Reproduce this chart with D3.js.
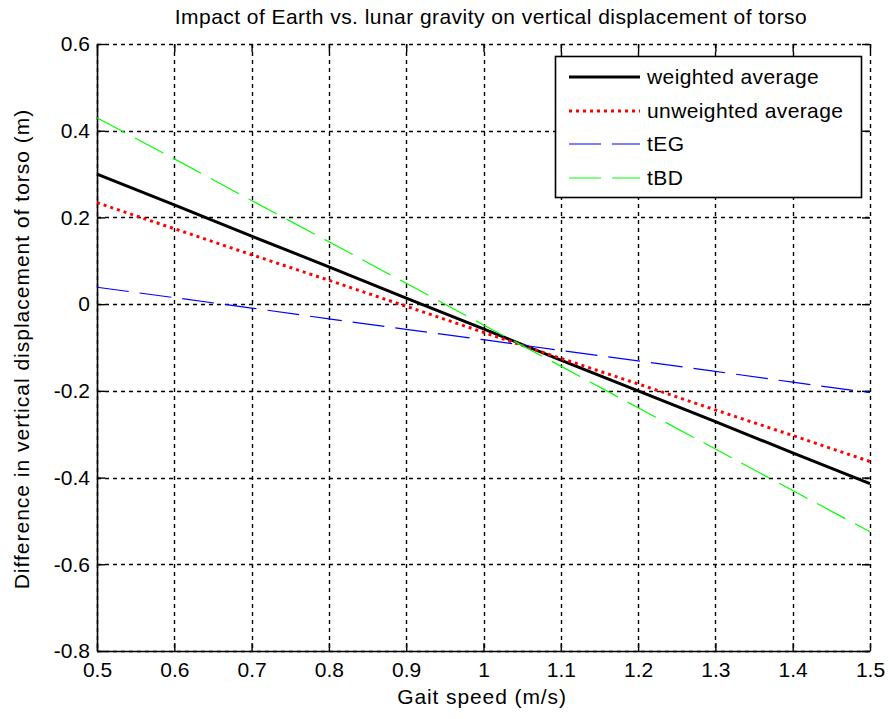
<!DOCTYPE html>
<html>
<head>
<meta charset="utf-8">
<script src="https://cdn.jsdelivr.net/npm/d3@7"></script>
<style>
  html, body { margin: 0; padding: 0; background: #fff; }
  svg { display: block; font-family: "Liberation Sans", Arial, sans-serif; }
</style>
</head>
<body>
<svg id="chart" width="889" height="719"></svg>
<script>
// Gait speed samples (m/s)
const speeds = [0.5, 0.6, 0.7, 0.8, 0.9, 1.0, 1.1, 1.2, 1.3, 1.4, 1.5];
// Earth minus lunar vertical torso displacement (m)
const weightedAvg   = [0.300, 0.229, 0.157, 0.086, 0.014, -0.057, -0.129, -0.200, -0.271, -0.343, -0.414];
const unweightedAvg = [0.234, 0.174, 0.114, 0.055, -0.005, -0.065, -0.125, -0.184, -0.244, -0.303, -0.363];
const tEG           = [0.039, 0.015, -0.009, -0.034, -0.058, -0.082, -0.107, -0.131, -0.155, -0.180, -0.204];
const tBD           = [0.430, 0.335, 0.239, 0.144, 0.048, -0.048, -0.143, -0.239, -0.334, -0.430, -0.525];

const xTicks = [0.5, 0.6, 0.7, 0.8, 0.9, 1, 1.1, 1.2, 1.3, 1.4, 1.5];
const yTicks = [0.6, 0.4, 0.2, 0, -0.2, -0.4, -0.6, -0.8];

const series = [
  { name: "weighted average",   values: weightedAvg,   color: "#000000", width: 3,   dash: null },
  { name: "unweighted average", values: unweightedAvg, color: "#ff0000", width: 3,   dash: "3,4" },
  { name: "tEG",                values: tEG,           color: "#0000ff", width: 1.2, dash: "32,11" },
  { name: "tBD",                values: tBD,           color: "#00ff00", width: 1.2, dash: "32,11" }
];

const svg = d3.select("#chart");
const L = 97, R = 870, T = 44, B = 651;
const FS = "21px";

const x = d3.scaleLinear().domain([0.5, 1.5]).range([L, R]);
const y = d3.scaleLinear().domain([-0.8, 0.6]).range([B, T]);

// dotted grid
const grid = svg.append("g").attr("stroke", "#000").attr("stroke-width", 1.4)
  .attr("stroke-dasharray", "4,4");
grid.selectAll("line.gx").data(xTicks).join("line")
  .attr("x1", d => Math.round(x(d)) + 0.5).attr("x2", d => Math.round(x(d)) + 0.5)
  .attr("y1", T).attr("y2", B);
grid.selectAll("line.gy").data(yTicks).join("line")
  .attr("y1", d => Math.round(y(d)) + 0.5).attr("y2", d => Math.round(y(d)) + 0.5)
  .attr("x1", L).attr("x2", R);

// axes with inward ticks
const fmt = d => String(d);
const tickLen = 8;
const axB = svg.append("g").attr("transform", `translate(0,${B})`)
  .call(d3.axisBottom(x).tickValues(xTicks).tickFormat(fmt).tickSizeInner(-tickLen).tickSizeOuter(0).tickPadding(11));
const axL = svg.append("g").attr("transform", `translate(${L},0)`)
  .call(d3.axisLeft(y).tickValues(yTicks).tickFormat(fmt).tickSizeInner(-tickLen).tickSizeOuter(0).tickPadding(7));
const axT = svg.append("g").attr("transform", `translate(0,${T})`)
  .call(d3.axisTop(x).tickValues(xTicks).tickFormat("").tickSizeInner(-tickLen).tickSizeOuter(0));
const axR = svg.append("g").attr("transform", `translate(${R},0)`)
  .call(d3.axisRight(y).tickValues(yTicks).tickFormat("").tickSizeInner(-tickLen).tickSizeOuter(0));

[axB, axL, axT, axR].forEach(a => {
  a.selectAll("line").attr("stroke", "#000").attr("stroke-width", 1.4);
  a.selectAll("text").attr("fill", "#000").style("font-size", FS)
    .style("font-family", "'Liberation Sans', Arial, sans-serif");
});
axT.select(".domain").remove();
axR.select(".domain").remove();
axB.select(".domain").attr("stroke", "#000").attr("stroke-width", 1.6);
axL.select(".domain").attr("stroke", "#000").attr("stroke-width", 1.6);

// data lines
const line = d3.line().x((d, i) => x(speeds[i])).y(d => y(d));
svg.append("g").selectAll("path").data(series).join("path")
  .attr("d", d => line(d.values))
  .attr("fill", "none")
  .attr("stroke", d => d.color)
  .attr("stroke-width", d => d.width)
  .attr("stroke-dasharray", d => d.dash);

// title and axis labels
svg.append("text").attr("x", 491).attr("y", 24).attr("text-anchor", "middle")
  .style("font-size", FS).style("letter-spacing", "0.45px")
  .text("Impact of Earth vs. lunar gravity on vertical displacement of torso");
svg.append("text").attr("x", 482).attr("y", 704).attr("text-anchor", "middle")
  .style("font-size", FS).style("letter-spacing", "0.9px").text("Gait speed (m/s)");
svg.append("text").attr("transform", "translate(29,349) rotate(-90)").attr("text-anchor", "middle")
  .style("font-size", FS).style("letter-spacing", "1px")
  .text("Difference in vertical displacement of torso (m)");

// legend
const lg = svg.append("g");
lg.append("rect").attr("x", 555.5).attr("y", 56.5).attr("width", 306).attr("height", 141)
  .attr("fill", "#fff").attr("stroke", "#000").attr("stroke-width", 1.6);
const rowsY = [77, 111, 144, 178];
const items = lg.selectAll("g.item").data(series).join("g")
  .attr("transform", (d, i) => `translate(0,${rowsY[i]})`);
items.append("line").attr("x1", 569).attr("x2", 640).attr("y1", 0).attr("y2", 0)
  .attr("stroke", d => d.color).attr("stroke-width", d => d.width)
  .attr("stroke-dasharray", d => d.dash);
items.append("text").attr("x", 647).attr("y", 7).style("font-size", FS)
  .style("letter-spacing", "0.4px").text(d => d.name);
</script>
</body>
</html>
